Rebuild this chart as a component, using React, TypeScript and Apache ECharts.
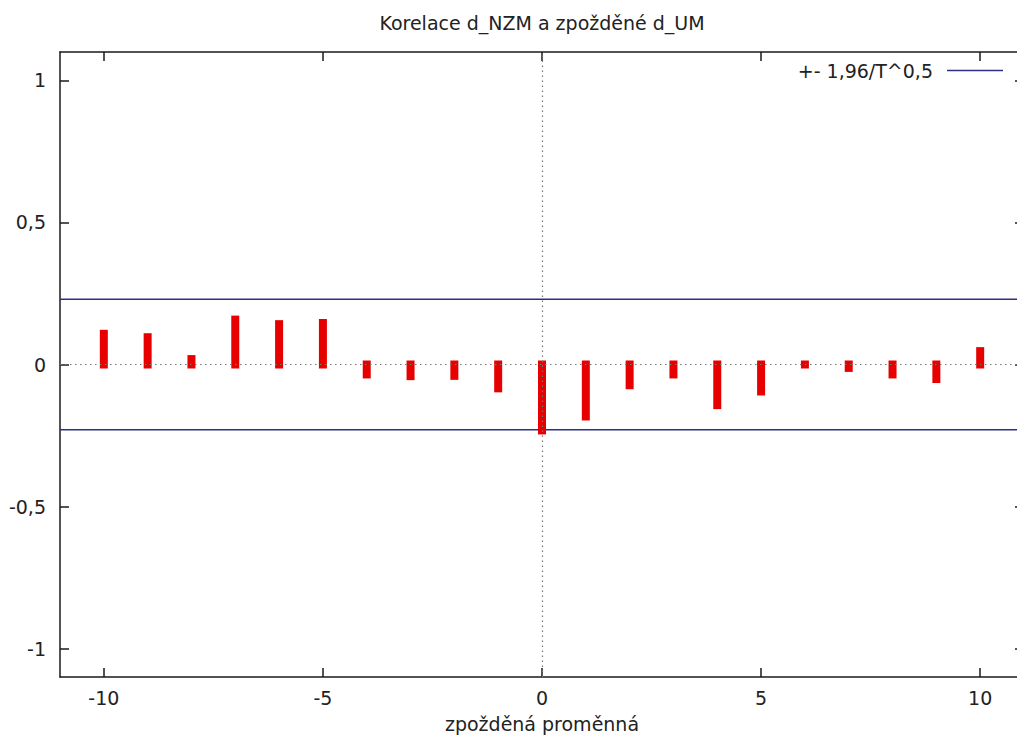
import React, { useEffect, useRef } from "react";
import * as echarts from "echarts";

const lags: number[] = [-10, -9, -8, -7, -6, -5, -4, -3, -2, -1, 0, 1, 2, 3, 4, 5, 6, 7, 8, 9, 10];
const correlations: number[] = [
  0.108, 0.096, 0.019, 0.158, 0.142, 0.146, -0.035, -0.041, -0.04, -0.084,
  -0.232, -0.183, -0.073, -0.035, -0.143, -0.095, 0.0, -0.012, -0.035, -0.051, 0.047,
];
const bound = 0.23;
const xTicks: number[] = [-10, -5, 0, 5, 10];
const yTicks: number[] = [-1, -0.5, 0, 0.5, 1];
const yTickLabels: string[] = ["-1", "-0,5", "0", "0,5", "1"];
const titleText = "Korelace d_NZM a zpožděné d_UM";
const xLabel = "zpožděná proměnná";
const boundName = "+- 1,96/T^0,5";

const FONT = "DejaVu Sans";
const FS = 19;
const TXT = "#222";
const AX = "#1a1a1a";
const BAR = "#e60000";
const BOUND = "#2e2e86";

export default function App() {
  const ref = useRef<HTMLDivElement>(null);
  useEffect(() => {
    if (!ref.current) return;
    const chart = echarts.init(ref.current, null, { renderer: "svg" });
    const axisCommon = {
      type: "value" as const,
      axisLine: { show: true, onZero: false, lineStyle: { color: AX, width: 1.5 } },
      axisTick: { show: true, inside: true, length: 9, lineStyle: { color: AX, width: 1.5 } },
      splitLine: { show: false },
    };
    const option: any = {
      animation: false,
      backgroundColor: "#ffffff",
      textStyle: { fontFamily: FONT },
      title: {
        text: titleText,
        left: 542,
        top: 13,
        padding: 0,
        textAlign: "center",
        textStyle: { fontFamily: FONT, fontSize: FS, fontWeight: "normal", color: TXT },
      },
      legend: {
        show: true,
        right: 9,
        top: 56,
        align: "right",
        icon: "rect",
        itemWidth: 56,
        itemHeight: 1.5,
        data: [boundName],
        itemStyle: { color: BOUND },
        textStyle: { fontFamily: FONT, fontSize: FS, color: TXT, padding: [0, 9, 0, 0] },
      },
      grid: { left: 60, top: 52, width: 964, height: 625, outerBoundsMode: "none" },
      xAxis: [
        {
          ...axisCommon,
          position: "bottom",
          min: -11,
          max: 11,
          axisTick: { ...axisCommon.axisTick, customValues: xTicks },
          axisLabel: {
            customValues: xTicks,
            margin: 11,
            color: TXT,
            fontFamily: FONT,
            fontSize: FS,
          },
          name: xLabel,
          nameLocation: "middle",
          nameGap: 37,
          nameTextStyle: { color: TXT, fontFamily: FONT, fontSize: FS },
        },
        {
          ...axisCommon,
          position: "top",
          min: -11,
          max: 11,
          axisTick: { ...axisCommon.axisTick, customValues: xTicks },
          axisLabel: { show: false },
        },
      ],
      yAxis: [
        {
          ...axisCommon,
          position: "left",
          min: -1.1,
          max: 1.1,
          axisTick: { ...axisCommon.axisTick, customValues: yTicks },
          axisLabel: {
            customValues: yTicks,
            margin: 14,
            color: TXT,
            fontFamily: FONT,
            fontSize: FS,
            formatter: (v: number) => {
              const i = yTicks.findIndex((t) => Math.abs(t - v) < 1e-9);
              return i >= 0 ? yTickLabels[i] : String(v).replace(".", ",");
            },
          },
        },
        {
          ...axisCommon,
          position: "right",
          min: -1.1,
          max: 1.1,
          axisTick: { ...axisCommon.axisTick, customValues: yTicks },
          axisLabel: { show: false },
        },
      ],
      series: [
        {
          type: "line",
          name: "zero",
          data: [],
          z: 1,
          silent: true,
          markLine: {
            silent: true,
            symbol: "none",
            label: { show: false },
            lineStyle: { color: "#777", type: [1.5, 3.5], width: 1.2 },
            data: [{ yAxis: 0 }, { xAxis: 0 }],
          },
        },
        {
          type: "custom",
          name: "corr",
          z: 3,
          data: lags.map((l, i) => [l, correlations[i]]),
          renderItem: (params: any, api: any) => {
            const x = api.value(0);
            const v = api.value(1);
            const p0 = api.coord([x, 0]);
            const p1 = api.coord([x, v]);
            const top = Math.min(p0[1], p1[1]) - 4;
            const bottom = Math.max(p0[1], p1[1]) + 4;
            return {
              type: "rect",
              shape: { x: p0[0] - 4, y: top, width: 8, height: bottom - top },
              style: { fill: BAR },
            };
          },
        },
        {
          type: "line",
          name: boundName,
          z: 2,
          symbol: "none",
          lineStyle: { color: BOUND, width: 1.5 },
          itemStyle: { color: BOUND },
          data: [
            [-11, bound],
            [11, bound],
          ],
        },
        {
          type: "line",
          name: boundName,
          z: 2,
          symbol: "none",
          lineStyle: { color: BOUND, width: 1.5 },
          itemStyle: { color: BOUND },
          data: [
            [-11, -bound],
            [11, -bound],
          ],
        },
      ],
    };
    chart.setOption(option);
    return () => chart.dispose();
  }, []);
  return (
    <div
      ref={ref}
      style={{ position: "absolute", left: 0, top: 0, width: 1017, height: 737, background: "#fff" }}
    />
  );
}
